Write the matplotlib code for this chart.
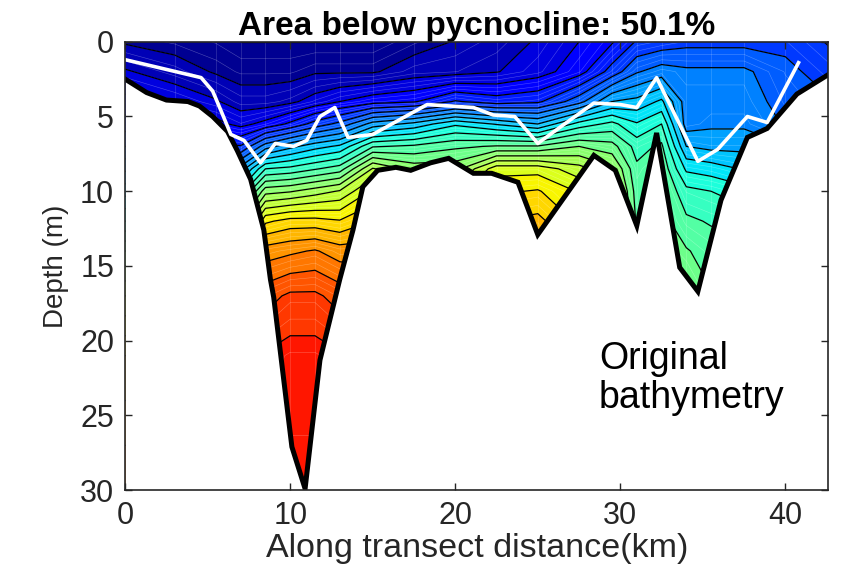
import numpy as np
import matplotlib
matplotlib.use("Agg")
import matplotlib.pyplot as plt

plt.rcParams['font.family'] = ['Liberation Sans', 'DejaVu Sans']

# ---------------- data ----------------
title_text = "Area below pycnocline: 50.1%"
label_text = "Original\nbathymetry"
x_label = "Along transect distance(km)"
y_label = "Depth (m)"

# stations (km) and depths (m) of the property grid
station_km = [0, 3, 5.5, 7, 8.5, 10, 11.5, 13, 15, 17.5, 20, 22.5, 25, 27.5,
              29.5, 31, 32.5, 34, 35.5, 37.5, 40, 43]
depth_levels_m = [0, 2, 4, 5.5, 7, 8.5, 10, 12, 14, 17, 21, 30]

# normalized density index (0 = lightest, 1 = densest), one profile per station
profiles = [
    [0.03, 0.07, 0.11, 0.15, 0.20, 0.26, 0.32, 0.40, 0.50, 0.60, 0.70, 0.80],
    [0.02, 0.05, 0.09, 0.13, 0.18, 0.25, 0.32, 0.40, 0.50, 0.60, 0.70, 0.80],
    [0.01, 0.03, 0.07, 0.11, 0.17, 0.24, 0.32, 0.42, 0.52, 0.62, 0.72, 0.80],
    [0.00, 0.02, 0.05, 0.09, 0.17, 0.28, 0.38, 0.50, 0.60, 0.70, 0.80, 0.85],
    [0.00, 0.02, 0.05, 0.11, 0.25, 0.40, 0.52, 0.66, 0.75, 0.82, 0.87, 0.89],
    [0.00, 0.02, 0.06, 0.14, 0.29, 0.41, 0.53, 0.68, 0.76, 0.84, 0.88, 0.895],
    [0.00, 0.03, 0.08, 0.18, 0.32, 0.43, 0.55, 0.68, 0.77, 0.84, 0.88, 0.895],
    [0.00, 0.03, 0.10, 0.21, 0.34, 0.45, 0.57, 0.67, 0.75, 0.82, 0.87, 0.89],
    [0.00, 0.03, 0.12, 0.28, 0.43, 0.57, 0.64, 0.70, 0.75, 0.80, 0.85, 0.88],
    [0.02, 0.05, 0.13, 0.31, 0.44, 0.52, 0.58, 0.64, 0.70, 0.75, 0.80, 0.85],
    [0.035, 0.055, 0.17, 0.36, 0.46, 0.52, 0.58, 0.64, 0.70, 0.75, 0.80, 0.85],
    [0.05, 0.065, 0.15, 0.33, 0.47, 0.62, 0.66, 0.70, 0.73, 0.76, 0.80, 0.85],
    [0.07, 0.085, 0.16, 0.30, 0.47, 0.62, 0.67, 0.71, 0.73, 0.76, 0.80, 0.85],
    [0.10, 0.12, 0.22, 0.38, 0.50, 0.58, 0.63, 0.66, 0.69, 0.72, 0.75, 0.80],
    [0.13, 0.18, 0.30, 0.41, 0.48, 0.54, 0.58, 0.60, 0.62, 0.64, 0.66, 0.70],
    [0.17, 0.23, 0.31, 0.37, 0.42, 0.44, 0.45, 0.46, 0.47, 0.48, 0.49, 0.50],
    [0.18, 0.25, 0.34, 0.40, 0.44, 0.46, 0.47, 0.48, 0.49, 0.50, 0.51, 0.52],
    [0.19, 0.24, 0.25, 0.25, 0.30, 0.36, 0.41, 0.44, 0.47, 0.505, 0.52, 0.53],
    [0.19, 0.24, 0.25, 0.26, 0.29, 0.35, 0.40, 0.43, 0.45, 0.47, 0.48, 0.50],
    [0.19, 0.24, 0.25, 0.26, 0.29, 0.33, 0.38, 0.42, 0.45, 0.47, 0.48, 0.50],
    [0.19, 0.21, 0.22, 0.23, 0.27, 0.31, 0.36, 0.41, 0.44, 0.47, 0.48, 0.50],
    [0.16, 0.18, 0.20, 0.22, 0.26, 0.30, 0.35, 0.40, 0.44, 0.47, 0.48, 0.50],
]

# bathymetry
bathy_km = [0, 1.3, 2.5, 3.8, 4.5, 5.3, 6.2, 6.8, 7.6, 8.4, 8.8, 9.0, 10.1, 10.9,
            11.8, 13.0, 13.8, 14.4, 15.3, 16.4, 17.3, 18.5, 19.6, 21.1, 22.2,
            23.8, 25.0, 28.4, 29.7, 31.0, 32.2, 33.6, 34.7, 36.1, 37.7, 38.9,
            40.7, 42.6]
bathy_m = [2.5, 3.4, 3.9, 4.0, 4.3, 5.0, 6.0, 7.3, 9.2, 12.6, 15.9, 17.1, 27.1,
           29.9, 21.3, 15.9, 12.6, 9.7, 8.6, 8.4, 8.6, 8.1, 7.8, 8.8, 8.8,
           9.4, 12.9, 7.6, 8.6, 12.3, 6.1, 15.1, 16.7, 10.6, 6.4, 5.8, 3.5, 2.2]

# pycnocline depth
pyc_km = [0, 4.6, 5.3, 5.8, 6.4, 7.2, 8.2, 9.1, 10.2, 11.0, 11.8, 12.7, 13.5,
          15.0, 18.3, 21.1, 22.3, 23.6, 25.0, 26.5, 28.4, 30.0, 31.0, 32.2,
          34.7, 35.9, 37.7, 38.9, 40.8]
pyc_m = [1.2, 2.4, 3.3, 4.6, 6.2, 6.6, 8.1, 6.8, 7.0, 6.6, 5.0, 4.4, 6.4,
         6.2, 4.2, 4.4, 4.9, 5.0, 6.8, 5.6, 4.1, 4.2, 4.4, 2.4,
         8.0, 7.2, 5.0, 5.4, 1.4]

# ---------------- plot ----------------
fig = plt.figure(figsize=(8.46, 5.72), dpi=100)
ax = fig.add_axes([0.148, 0.143, 0.831, 0.784])

X, Y = np.meshgrid(np.array(station_km), np.array(depth_levels_m))
Z = np.array(profiles).T

levels = np.linspace(0, 1, 31)
ax.contourf(X, Y, Z, levels=levels, cmap='jet', vmin=0, vmax=1, zorder=1)
fine = np.linspace(0, 1, 91)
ax.contour(X, Y, Z, levels=fine, colors='white', linewidths=0.4, alpha=0.3, zorder=1.5)
ax.vlines(station_km, 0, 30, colors='white', linewidths=0.5, alpha=0.2, zorder=1.6)
ax.contour(X, Y, Z, levels=levels, colors='black', linewidths=0.9, zorder=2)

ax.fill_between(bathy_km, bathy_m, 31, color='white', zorder=3, lw=0)
ax.plot(bathy_km, bathy_m, color='black', lw=3.6, zorder=4, solid_joinstyle='miter')
ax.plot(pyc_km, pyc_m, color='white', lw=2.6, zorder=5)

ax.set_xlim(0, 42.6)
ax.set_ylim(30, 0)
ax.set_xticks([0, 10, 20, 30, 40])
ax.set_yticks([0, 5, 10, 15, 20, 25, 30])

tc = '#262626'
ax.tick_params(direction='in', length=5, width=1, top=True, right=True,
               labelsize=22, colors=tc, pad=8)
for s in ax.spines.values():
    s.set_color(tc)
    s.set_linewidth(1.2)
    s.set_zorder(10)
ax.xaxis.set_zorder(10)
ax.yaxis.set_zorder(10)

ax.set_xlabel(x_label, fontsize=24.5, color=tc, labelpad=1)
ax.set_ylabel(y_label, fontsize=20, color=tc, labelpad=8)
ax.set_title(title_text, fontsize=24, fontweight='bold', color='black', pad=5)

ax.text(28.7, 20.0, label_text, fontsize=27, color='black', ha='left', va='top',
        linespacing=1.12, zorder=6)

fig.savefig('out.png', dpi=100)
